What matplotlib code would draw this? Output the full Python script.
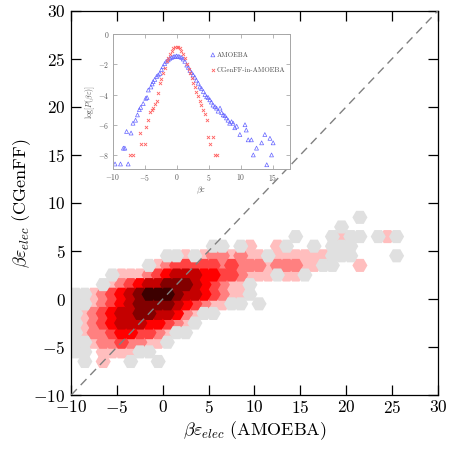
#!/usr/bin/env python3
import matplotlib

matplotlib.use("Agg")
import matplotlib.pyplot as plt
import numpy as np

plt.rcParams["font.family"] = "serif"
plt.rcParams["font.serif"] = ["cmr10", "DejaVu Serif"]
plt.rcParams["mathtext.fontset"] = "cm"
plt.rcParams["axes.formatter.use_mathtext"] = True
plt.rcParams["axes.unicode_minus"] = True

# 2D histogram of (AMOEBA, CGenFF) energies, unit bins; one char per bin,
# '.' empty, 1 = lowest count ... 8 = highest count. Rows top (y=8.5) to bottom.
X_CENTERS = [-9.5 + i for i in range(36)]
Y_CENTERS = [8.5 - j for j in range(16)]
HEX_ROWS = [
    "...............................1....",
    ".............................1......",
    "........................1...1211.121",
    "...............11.12..21..1.111.....",
    "..........112123323221222222111....1",
    "........123444443433323332211..2....",
    "....1222345666554432221221..........",
    "...12345667776543221................",
    "11234567888766543221................",
    "1123456777765432211.1...............",
    "1234566776653211....................",
    "12345666554321......................",
    "1233455443211.......................",
    "11233433221.........................",
    "11.222211...........................",
    ".1.2..1..1..........................",
]
LEVEL_COLORS = ["#e0e0e0", "#ffbebe", "#ff8080", "#ff4242", "#ff0000",
                "#c40000", "#820000", "#3c0000"]

# inset: log probability distributions
AMOEBA_X = [-9.6, -8.75, -8.3, -8.07, -7.55, -7.8, -7.1, -6.8, -6.4, -6.1, -5.8, -5.6,
            -5.2, -4.8, -4.6, -4.4, -4.0, -3.8, -3.65, -3.4, -3.1, -2.85, -2.6, -2.35,
            -2.1, -1.85, -1.6, -1.3, -1.05, -0.8, -0.5, -0.25, 0.0, 0.25, 0.5, 0.8,
            1.05, 1.3, 1.6, 1.85, 2.1, 2.35, 2.6, 2.85, 3.1, 3.4, 3.65, 3.9, 4.2, 4.45,
            4.7, 4.95, 5.2, 5.45, 5.7, 6.0, 6.25, 6.5, 6.8, 7.05, 7.3, 7.55, 7.8, 8.05,
            8.3, 8.6, 8.85, 9.1, 9.4, 9.9, 10.7, 10.9, 11.2, 11.7, 12.0, 12.5, 13.3,
            13.8, 14.1, 14.6, 14.85, 15.1]
AMOEBA_Y = [-8.6, -8.6, -7.55, -7.55, -8.6, -6.45, -6.55, -5.9, -5.7, -5.35, -5.0, -4.85,
            -4.6, -4.25, -4.2, -3.7, -3.5, -3.3, -3.15, -3.0, -2.8, -2.7, -2.6, -2.35,
            -2.15, -1.95, -1.8, -1.7, -1.6, -1.55, -1.5, -1.48, -1.45, -1.47, -1.5, -1.55,
            -1.65, -1.8, -2.05, -2.2, -2.4, -2.55, -2.7, -2.85, -3.05, -3.25, -3.5, -3.6,
            -3.8, -4.0, -4.15, -4.2, -4.35, -4.5, -4.7, -4.8, -4.9, -5.1, -4.9, -5.2,
            -5.35, -5.4, -5.55, -5.7, -5.9, -5.8, -5.9, -6.2, -6.1, -6.65, -6.0, -6.35,
            -7.0, -7.0, -8.0, -7.55, -7.2, -6.65, -8.65, -6.9, -8.0, -7.2]
CGENFF_X = [-7.3, -6.8, -5.7, -5.5, -4.95, -4.7, -4.4, -4.15, -3.9, -3.65, -3.35, -3.1,
            -2.85, -2.6, -2.35, -2.1, -1.8, -1.55, -1.3, -1.05, -0.75, -0.5, -0.25, 0.0,
            0.25, 0.5, 0.75, 1.05, 1.3, 1.65, 1.9, 2.1, 2.35, 2.6, 2.85, 3.1, 3.4, 3.65,
            3.9, 4.15, 4.45, 4.7, 4.95, 5.2, 5.7, 6.0, 6.4]
CGENFF_Y = [-8.0, -8.0, -6.55, -7.25, -7.25, -6.15, -5.7, -5.15, -5.0, -4.9, -4.6, -4.45,
            -3.9, -3.25, -2.95, -2.6, -2.25, -1.8, -1.55, -1.3, -1.1, -0.95, -0.88, -0.85,
            -0.88, -0.95, -1.1, -1.3, -1.6, -1.95, -2.3, -2.6, -2.9, -3.25, -3.5, -3.8,
            -4.1, -4.45, -4.7, -5.0, -5.3, -5.7, -6.8, -7.3, -6.8, -8.0, -8.0]


def hex_cells():
    xs, ys, lv = [], [], []
    for j, row in enumerate(HEX_ROWS):
        for i, ch in enumerate(row):
            if ch != ".":
                xs.append(X_CENTERS[i])
                ys.append(Y_CENTERS[j])
                lv.append(int(ch))
    xs, ys, lv = np.array(xs), np.array(ys), np.array(lv)
    # coloured bins drawn low -> high, grey (lowest count) bins on top
    key = np.where(lv == 1, 99, lv)
    order = np.argsort(key, kind="stable")
    return xs[order], ys[order], lv[order]


def main() -> None:
    fig = plt.figure(figsize=(4.5, 4.49), dpi=100)
    ax = fig.add_axes([0.158, 0.120, 0.815, 0.856])

    xs, ys, lv = hex_cells()
    ax.scatter(xs, ys, s=118, marker="H", c=[LEVEL_COLORS[v - 1] for v in lv],
               linewidths=0, zorder=2)
    ax.plot([-10, 30], [-10, 30], ls=(0, (6, 4)), color="0.5", lw=1.0, zorder=3)

    ax.set_xlim(-10, 30)
    ax.set_ylim(-10, 30)
    ax.set_xticks(range(-10, 31, 5))
    ax.set_yticks(range(-10, 31, 5))
    ax.tick_params(direction="in", length=7, width=0.9, top=True, right=True,
                   labelsize=12.5)
    ax.tick_params(axis="x", pad=3)
    ax.tick_params(axis="y", pad=4)
    for sp in ax.spines.values():
        sp.set_linewidth(0.9)
    ax.set_xlabel(r"$\beta\varepsilon_{elec}$ (AMOEBA)", fontsize=13, labelpad=2)
    ax.set_ylabel(r"$\beta\varepsilon_{elec}$ (CGenFF)", fontsize=13, labelpad=0)

    ins = fig.add_axes([0.250, 0.623, 0.394, 0.301])
    ins.scatter(AMOEBA_X, AMOEBA_Y, marker="^", s=8, facecolors="none",
                edgecolors="#6464ff", linewidths=0.5, label="AMOEBA")
    ins.scatter(CGENFF_X, CGENFF_Y, marker="x", s=5, color="#ff6060",
                linewidths=0.6, label="CGenFF-in-AMOEBA")
    ins.set_xlim(-10, 17.7)
    ins.set_ylim(-8.95, 0)
    ins.set_xticks([-10, -5, 0, 5, 10, 15])
    ins.set_yticks([0, -2, -4, -6, -8])
    ins.tick_params(direction="in", length=3, width=0.5, color="0.6", top=True,
                    right=True, labelsize=5.5, pad=2, labelcolor="0.35")
    for sp in ins.spines.values():
        sp.set_color("0.65")
        sp.set_linewidth(0.7)
    ins.set_xlabel(r"$\beta\varepsilon$", fontsize=6, color="0.35", labelpad=1)
    ins.set_ylabel(r"$\log[P(\beta\varepsilon)]$", fontsize=5.5, color="0.35",
                   labelpad=1)
    leg = ins.legend(loc="upper right", bbox_to_anchor=(1.0, 0.9), frameon=False,
                     fontsize=5, handletextpad=0.1, handlelength=1.0,
                     labelspacing=1.3, borderaxespad=0.2)
    for t in leg.get_texts():
        t.set_color("0.3")

    fig.savefig("out.png", dpi=100)
    plt.close(fig)


if __name__ == "__main__":
    main()
